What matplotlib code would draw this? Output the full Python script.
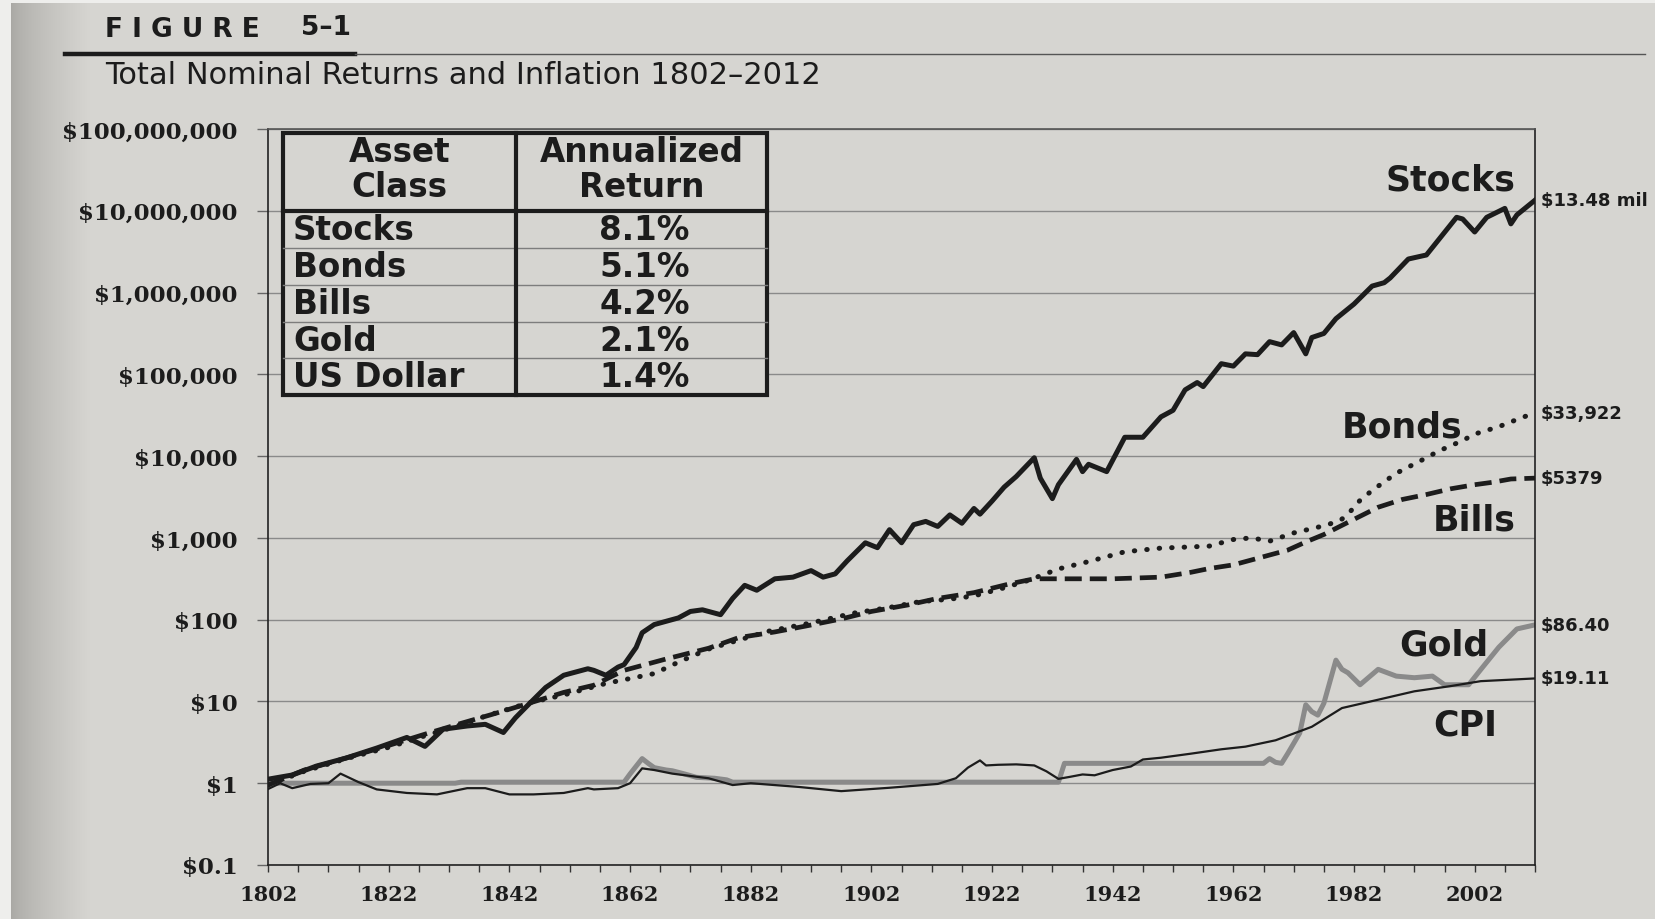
import matplotlib
matplotlib.use('Agg')
import numpy as np
import matplotlib.pyplot as plt
from matplotlib.patches import Rectangle
from matplotlib.lines import Line2D
from matplotlib.colors import LinearSegmentedColormap
from matplotlib.ticker import FixedLocator, NullLocator

# Growth of $1 invested in 1802, nominal dollars
stock_years = [1802, 1806, 1810, 1815, 1820, 1825, 1828, 1831, 1835, 1838, 1841, 1843,
               1845, 1848, 1851, 1855, 1856, 1858, 1860, 1861, 1863, 1864, 1866, 1870,
               1872, 1874, 1877, 1879, 1881, 1883, 1886, 1889, 1892, 1894, 1896, 1898,
               1901, 1903, 1905, 1907, 1909, 1911, 1913, 1915, 1917, 1919, 1920, 1922,
               1924, 1926, 1929, 1930, 1932, 1933, 1936, 1937, 1938, 1941, 1944, 1947,
               1950, 1952, 1954, 1956, 1957, 1960, 1962, 1964, 1966, 1968, 1970, 1972,
               1974, 1975, 1977, 1979, 1982, 1985, 1987, 1988, 1991, 1994, 1999, 2000,
               2002, 2004, 2007, 2008, 2009, 2012]
stock_values = [1.12, 1.26, 1.62, 2.04, 2.69, 3.63, 2.82, 4.57, 5.01, 5.25, 4.17, 6.31,
                8.91, 14.8, 20.9, 25.1, 24.0, 20.9, 26.3, 28.2, 45.7, 69.2, 87.1, 105,
                126, 132, 115, 182, 263, 229, 316, 331, 398, 331, 363, 525,
                871, 759, 1260, 871, 1450, 1590, 1380, 1910, 1510, 2290, 1950, 2820,
                4170, 5620, 9550, 5370, 3020, 4470, 9120, 6460, 7940, 6460, 17000, 17000,
                30200, 36300, 64600, 79400, 70800, 135000, 126000, 178000, 174000, 251000,
                229000, 324000, 178000, 282000, 316000, 479000, 724000, 1200000, 1320000,
                1510000, 2570000, 2880000, 8320000, 7940000, 5500000, 8320000, 10700000,
                6920000, 8910000, 13480000]

bond_years = [1802, 1808, 1815, 1822, 1828, 1834, 1838, 1845, 1851, 1858, 1866, 1870,
              1875, 1880, 1885, 1892, 1899, 1905, 1910, 1915, 1919, 1924, 1928, 1933,
              1938, 1944, 1950, 1955, 1958, 1962, 1965, 1968, 1972, 1976, 1978, 1980,
              1981, 1983, 1985, 1989, 1994, 1996, 2000, 2002, 2006, 2009, 2012]
bond_values = [0.95, 1.4, 2.0, 2.75, 3.8, 5.2, 6.6, 9.5, 12.0, 16.6, 21.9, 30.2,
               43.7, 56.2, 72.4, 91.2, 120, 141, 166, 178, 195, 245, 302, 417,
               513, 676, 750, 776, 794, 955, 1000, 912, 1150, 1350, 1480, 1700,
               1950, 2880, 3800, 6170, 9550, 11500, 15500, 18600, 22900, 28000, 33922]

bill_years = [1802, 1808, 1815, 1822, 1828, 1834, 1839, 1844, 1851, 1856, 1861, 1868,
              1875, 1880, 1886, 1891, 1897, 1902, 1908, 1913, 1919, 1925, 1929, 1933,
              1942, 1950, 1955, 1958, 1962, 1965, 1968, 1971, 1974, 1977, 1981, 1984,
              1986, 1990, 1994, 1998, 2002, 2005, 2008, 2012]
bill_values = [0.95, 1.45, 2.04, 2.9, 3.98, 5.4, 6.9, 8.9, 12.9, 15.8, 24.0, 33.1,
               44.7, 60.3, 70.8, 83.2, 102, 126, 151, 182, 214, 275, 316, 316,
               316, 331, 380, 422, 468, 537, 617, 708, 891, 1100, 1550, 2000,
               2370, 2950, 3390, 3980, 4470, 4790, 5250, 5379]

gold_years = [1802, 1833, 1834, 1861, 1862, 1864, 1865, 1866, 1868, 1869, 1871, 1873,
              1876, 1878, 1879, 1933, 1934, 1967, 1968, 1969, 1970, 1971, 1973, 1974,
              1975, 1976, 1977, 1979, 1980, 1981, 1983, 1986, 1989, 1992, 1995, 1997,
              2001, 2003, 2006, 2009, 2012]
gold_values = [1.0, 1.0, 1.03, 1.03, 1.3, 2.0, 1.75, 1.55, 1.45, 1.42, 1.3, 1.18,
               1.15, 1.1, 1.03, 1.03, 1.75, 1.75, 2.0, 1.8, 1.75, 2.3, 4.1, 9.1,
               7.5, 6.8, 9.5, 32.0, 24.7, 22.4, 16.0, 24.7, 20.4, 19.5, 20.4, 16.0,
               16.0, 24.5, 46.0, 77.0, 86.40]

cpi_years = [1802, 1804, 1806, 1809, 1812, 1814, 1817, 1820, 1825, 1830, 1835, 1838,
             1842, 1846, 1851, 1855, 1856, 1860, 1862, 1864, 1866, 1869, 1875, 1879,
             1882, 1890, 1897, 1905, 1913, 1916, 1918, 1920, 1921, 1923, 1926, 1929,
             1931, 1933, 1935, 1937, 1939, 1942, 1945, 1947, 1950, 1955, 1960, 1964,
             1969, 1975, 1980, 1986, 1992, 1998, 2003, 2012]
cpi_values = [0.85, 1.0, 0.87, 0.98, 1.0, 1.31, 1.03, 0.84, 0.76, 0.73, 0.87, 0.87,
              0.73, 0.73, 0.76, 0.87, 0.84, 0.87, 1.0, 1.52, 1.45, 1.31, 1.15, 0.95,
              1.0, 0.9, 0.8, 0.88, 0.98, 1.15, 1.55, 1.9, 1.65, 1.68, 1.7, 1.65,
              1.4, 1.13, 1.2, 1.28, 1.25, 1.45, 1.6, 1.95, 2.05, 2.3, 2.6, 2.8,
              3.35, 4.9, 8.3, 10.5, 13.3, 15.4, 17.7, 19.11]

table_assets = ['Stocks', 'Bonds', 'Bills', 'Gold', 'US Dollar']
table_returns = ['8.1%', '5.1%', '4.2%', '2.1%', '1.4%']
end_labels = ['$13.48 mil', '$33,922', '$5379', '$86.40', '$19.11']

year_ticks = [1802, 1822, 1842, 1862, 1882, 1902, 1922, 1942, 1962, 1982, 2002]
value_ticks = [0.1, 1, 10, 100, 1e3, 1e4, 1e5, 1e6, 1e7, 1e8]
value_tick_labels = ['$0.1', '$1', '$10', '$100', '$1,000', '$10,000', '$100,000',
                     '$1,000,000', '$10,000,000', '$100,000,000']

PAPER = '#d6d5d1'
INK = '#1c1c1c'

fig = plt.figure(figsize=(16.55, 9.2), dpi=100, facecolor=PAPER)

# page background: pale margin at the far left, then shading toward the gutter
bg = fig.add_axes([0, 0, 1, 1], zorder=-5)
shade = LinearSegmentedColormap.from_list('page', ['#a9a8a4', PAPER])
ramp = np.linspace(0, 1, 200).reshape(1, -1) ** 0.7
bg.imshow(ramp, cmap=shade, extent=(11, 90, 920, 0), aspect='auto')
bg.add_patch(Rectangle((0, 0), 11, 920, color='#eeeeec', lw=0))
bg.add_patch(Rectangle((0, 0), 1655, 4, color='#eeeeec', lw=0))
bg.set_xlim(0, 1655)
bg.set_ylim(920, 0)
bg.set_facecolor(PAPER)
bg.axis('off')

ax = fig.add_axes([0.162, 0.0587, 0.7655, 0.80])
ax.set_facecolor(PAPER)

# series
ax.plot(gold_years, gold_values, color='#8a8a8a', lw=3.6, solid_joinstyle='round', zorder=2)
ax.plot(cpi_years, cpi_values, color=INK, lw=1.6, zorder=3)
ax.plot(bill_years, bill_values, color=INK, lw=3.4, linestyle=(0, (3.6, 1.7)), zorder=3)
ax.plot(bond_years, bond_values, color=INK, lw=3.6, linestyle=(0, (0.1, 2.4)),
        dash_capstyle='round', zorder=3)
ax.plot(stock_years, stock_values, color=INK, lw=3.6, solid_joinstyle='round', zorder=4)

ax.set_yscale('log')
ax.set_ylim(0.1, 1e8)
ax.set_xlim(1802, 2012)

ax.set_yticks(value_ticks)
ax.set_yticklabels(value_tick_labels, fontfamily='DejaVu Serif', fontweight='bold',
                   fontsize=16.5, color=INK)
ax.yaxis.set_minor_locator(NullLocator())
ax.tick_params(axis='y', length=8, width=1, color='#666666', pad=14)

ax.set_xticks(year_ticks)
ax.set_xticklabels([str(y) for y in year_ticks], fontfamily='DejaVu Serif',
                   fontweight='bold', fontsize=15, color=INK)
ax.xaxis.set_minor_locator(FixedLocator([y for y in range(1807, 2013, 5)]))
ax.tick_params(axis='x', which='both', direction='out', length=5, width=1,
               color='#333333', pad=9)

ax.grid(axis='y', which='major', color='#8a8a8a', lw=1.0)
ax.set_axisbelow(True)
for side in ['left', 'bottom', 'right']:
    ax.spines[side].set_color('#222222')
    ax.spines[side].set_linewidth(1.2)
ax.spines['top'].set_color('#555555')
ax.spines['top'].set_linewidth(1.2)

# returns table, in axes fraction
t_left, t_mid, t_right = 0.0118, 0.1958, 0.3935
t_top, t_head, t_bottom = 0.994, 0.889, 0.638
row_h = (t_head - t_bottom) / len(table_assets)
ax.add_patch(Rectangle((t_left, t_bottom), t_right - t_left, t_top - t_bottom,
                       transform=ax.transAxes, facecolor=PAPER, edgecolor=INK,
                       lw=3, zorder=5, clip_on=False))
for i in range(1, len(table_assets)):
    y = t_head - i * row_h
    ax.add_line(Line2D([t_left, t_right], [y, y], transform=ax.transAxes,
                       color='#7d7d7d', lw=1.0, zorder=6))
ax.add_line(Line2D([t_left, t_right], [t_head, t_head], transform=ax.transAxes,
                   color=INK, lw=3, zorder=6))
ax.add_line(Line2D([t_mid, t_mid], [t_bottom, t_top], transform=ax.transAxes,
                   color=INK, lw=3, zorder=6))

head_y = (t_top + t_head) / 2 + 0.004
ax.text((t_left + t_mid) / 2, head_y, 'Asset\nClass', transform=ax.transAxes,
        ha='center', va='center', fontsize=23.5, fontweight='bold', color=INK,
        linespacing=1.1, zorder=7)
ax.text((t_mid + t_right) / 2, head_y, 'Annualized\nReturn', transform=ax.transAxes,
        ha='center', va='center', fontsize=23.5, fontweight='bold', color=INK,
        linespacing=1.1, zorder=7)
for i, (asset, ret) in enumerate(zip(table_assets, table_returns)):
    y = t_head - (i + 0.5) * row_h
    ax.text(0.0197, y, asset, transform=ax.transAxes, ha='left', va='center',
            fontsize=23.5, fontweight='bold', color=INK, zorder=7)
    ax.text(0.297, y, ret, transform=ax.transAxes, ha='center', va='center',
            fontsize=23.5, fontweight='bold', color=INK, zorder=7)

# series names inside the plot
series_names = [('Stocks', 1998.0, 10 ** 7.38), ('Bonds', 1990.0, 10 ** 4.36),
                ('Bills', 2002.0, 10 ** 3.22), ('Gold', 1996.8, 10 ** 1.7),
                ('CPI', 2000.4, 10 ** 0.72)]
for name, x, y in series_names:
    ax.text(x, y, name, ha='center', va='center', fontsize=25, fontweight='bold',
            color=INK, zorder=7)

# ending values just past the right axis
end_values = [stock_values[-1], bond_values[-1], bill_values[-1], gold_values[-1],
              cpi_values[-1]]
for label, val in zip(end_labels, end_values):
    ax.annotate(label, xy=(2012, val), xytext=(4, 0), textcoords='offset points',
                ha='left', va='center', fontsize=13, fontweight='bold', color=INK,
                annotation_clip=False)

# figure heading
fig.text(105 / 1655, 1 - 30 / 920, 'F I G U R E', ha='left', va='center',
         fontsize=19, fontweight='bold', color=INK)
fig.text(301 / 1655, 1 - 28 / 920, '5\u20131', ha='left', va='center',
         fontsize=19, fontweight='bold', color=INK)
fig.add_artist(Line2D([65 / 1655, 355 / 1655], [1 - 55 / 920] * 2, lw=3.2, color=INK))
fig.add_artist(Line2D([355 / 1655, 1645 / 1655], [1 - 55 / 920] * 2, lw=1.0, color='#555555'))
fig.text(105 / 1655, 1 - 76 / 920, 'Total Nominal Returns and Inflation 1802\u20132012',
         ha='left', va='center', fontsize=22, color=INK)

fig.savefig('out.png', dpi=100, facecolor=PAPER)
